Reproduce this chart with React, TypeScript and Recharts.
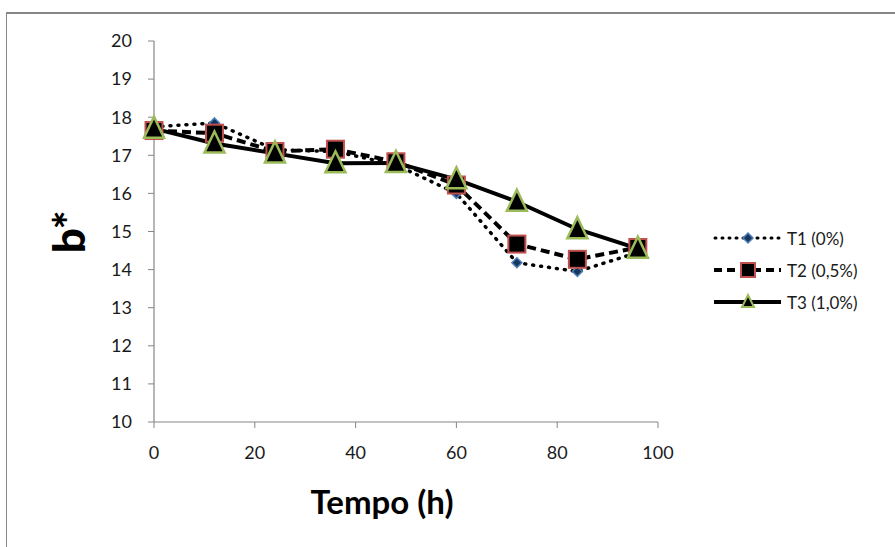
import { LineChart, Line, XAxis, YAxis } from 'recharts';

const hours = [0, 12, 24, 36, 48, 60, 72, 84, 96];
const t1Values = [17.75, 17.85, 17.15, 17.1, 16.75, 16.0, 14.18, 13.95, 14.45];
const t2Values = [17.65, 17.58, 17.1, 17.16, 16.83, 16.22, 14.67, 14.27, 14.58];
const t3Values = [17.7, 17.31, 17.05, 16.79, 16.8, 16.37, 15.78, 15.06, 14.55];
const xTicks = [0, 20, 40, 60, 80, 100];
const yTicks = [10, 11, 12, 13, 14, 15, 16, 17, 18, 19, 20];
const seriesNames = ['T1 (0%)', 'T2 (0,5%)', 'T3 (1,0%)'];

const data = hours.map((h, i) => ({
  h,
  t1: t1Values[i],
  t2: t2Values[i],
  t3: t3Values[i],
}));

const FONT = 'Lato, "Open Sans", sans-serif';
const AXIS_GREY = '#868686';

const Diamond = ({ cx, cy }: any) => (
  <polygon
    points={`${cx},${cy - 5} ${cx + 5},${cy} ${cx},${cy + 5} ${cx - 5},${cy}`}
    fill="#17375E"
    stroke="#4F81BD"
    strokeWidth={1.5}
  />
);

const Square = ({ cx, cy }: any) => (
  <rect x={cx - 8.5} y={cy - 8.5} width={17} height={17} fill="#000" stroke="#C0504D" strokeWidth={2} />
);

const Triangle = ({ cx, cy }: any) => (
  <polygon
    points={`${cx},${cy - 12} ${cx + 10},${cy + 9} ${cx - 10},${cy + 9}`}
    fill="#000"
    stroke="#9BBB59"
    strokeWidth={2.5}
    strokeLinejoin="miter"
  />
);

const tickStyle = { fontFamily: FONT, fontSize: 18, fill: '#1a1a1a' };

function LegendRow({ kind, label, top }: { kind: number; label: string; top: number }) {
  return (
    <div style={{ position: 'absolute', left: 713, top, display: 'flex', alignItems: 'center' }}>
      <svg width={70} height={22}>
        {kind === 0 && (
          <>
            <line x1={2} y1={11} x2={66} y2={11} stroke="#000" strokeWidth={3} strokeDasharray="1 6" strokeLinecap="round" />
            <Diamond cx={35} cy={11} />
          </>
        )}
        {kind === 1 && (
          <>
            <line x1={1} y1={11} x2={68} y2={11} stroke="#000" strokeWidth={4} strokeDasharray="8 5" />
            <rect x={28} y={4} width={14} height={14} fill="#000" stroke="#C0504D" strokeWidth={2} />
          </>
        )}
        {kind === 2 && (
          <>
            <line x1={1} y1={11} x2={68} y2={11} stroke="#000" strokeWidth={4} />
            <polygon points="35,4 41,16 29,16" fill="#000" stroke="#9BBB59" strokeWidth={2} />
          </>
        )}
      </svg>
      <span style={{ fontFamily: FONT, fontSize: 17, color: '#1a1a1a', marginLeft: 4 }}>{label}</span>
    </div>
  );
}

export default function App() {
  return (
    <div style={{ position: 'absolute', left: 0, top: 0, width: 895, height: 547, background: '#fff' }}>
      {/* outer frame (only top and left edges visible) */}
      <div style={{ position: 'absolute', left: 6, top: 12, width: 889, height: 2, background: AXIS_GREY }} />
      <div style={{ position: 'absolute', left: 6, top: 12, width: 1, height: 535, background: AXIS_GREY }} />

      <LineChart
        width={895}
        height={547}
        data={data}
        margin={{ top: 41, right: 237, bottom: 0, left: 0 }}
        style={{ position: 'absolute', left: 0, top: 0 }}
      >
        <XAxis
          dataKey="h"
          type="number"
          domain={[0, 100]}
          ticks={xTicks}
          height={125}
          tickSize={6}
          tickMargin={18}
          stroke={AXIS_GREY}
          tick={tickStyle}
          axisLine={{ stroke: AXIS_GREY, strokeWidth: 1.2 }}
          tickLine={{ stroke: AXIS_GREY }}
        />
        <YAxis
          type="number"
          domain={[10, 20]}
          ticks={yTicks}
          width={154}
          tickSize={6}
          tickMargin={16}
          interval={0}
          stroke={AXIS_GREY}
          tick={tickStyle}
          axisLine={{ stroke: AXIS_GREY, strokeWidth: 1.2 }}
          tickLine={{ stroke: AXIS_GREY }}
        />
        <Line
          dataKey="t1"
          name={seriesNames[0]}
          stroke="#000"
          strokeWidth={3.5}
          strokeDasharray="1 7"
          strokeLinecap="round"
          dot={<Diamond />}
          activeDot={false}
          isAnimationActive={false}
        />
        <Line
          dataKey="t2"
          name={seriesNames[1]}
          stroke="#000"
          strokeWidth={4}
          strokeDasharray="9 5"
          dot={<Square />}
          activeDot={false}
          isAnimationActive={false}
        />
        <Line
          dataKey="t3"
          name={seriesNames[2]}
          stroke="#000"
          strokeWidth={4}
          dot={<Triangle />}
          activeDot={false}
          isAnimationActive={false}
        />
      </LineChart>

      <div
        style={{
          position: 'absolute',
          left: 68,
          top: 232,
          transform: 'translate(-50%, -50%) rotate(-90deg)',
          fontFamily: FONT,
          fontWeight: 900,
          fontSize: 44,
          color: '#000',
          whiteSpace: 'nowrap',
          lineHeight: 1,
        }}
      >
        b*
      </div>
      <div
        style={{
          position: 'absolute',
          left: 382,
          top: 501,
          transform: 'translate(-50%, -50%)',
          fontFamily: FONT,
          fontWeight: 700,
          fontSize: 33,
          color: '#000',
          whiteSpace: 'nowrap',
          lineHeight: 1,
        }}
      >
        Tempo (h)
      </div>

      <LegendRow kind={0} label={seriesNames[0]} top={227} />
      <LegendRow kind={1} label={seriesNames[1]} top={259} />
      <LegendRow kind={2} label={seriesNames[2]} top={291} />
    </div>
  );
}
